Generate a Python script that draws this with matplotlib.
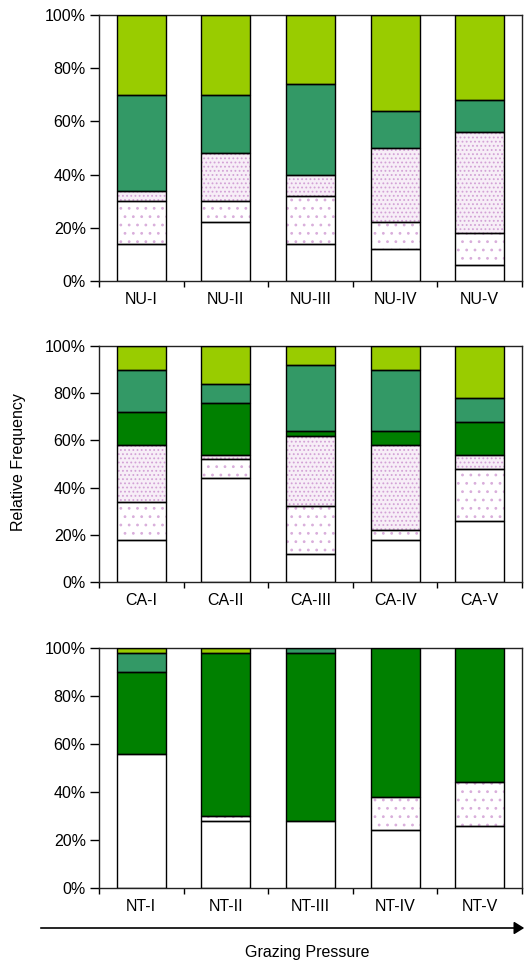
import matplotlib.pyplot as plt
import numpy as np

plt.rcParams['font.family'] = ['Liberation Sans', 'DejaVu Sans']
plt.rcParams['hatch.linewidth'] = 0.8

# ---- data (percent, stacked bottom -> top) ----
nu_labels = ['NU-I', 'NU-II', 'NU-III', 'NU-IV', 'NU-V']
nu_white = [14, 22, 14, 12, 6]
nu_sparse = [16, 8, 18, 10, 12]
nu_dense = [4, 18, 8, 28, 38]
nu_dark = [0, 0, 0, 0, 0]
nu_medium = [36, 22, 34, 14, 12]
nu_yellow = [30, 30, 26, 36, 32]

ca_labels = ['CA-I', 'CA-II', 'CA-III', 'CA-IV', 'CA-V']
ca_white = [18, 44, 12, 18, 26]
ca_sparse = [16, 8, 20, 4, 22]
ca_dense = [24, 2, 30, 36, 6]
ca_dark = [14, 22, 2, 6, 14]
ca_medium = [18, 8, 28, 26, 10]
ca_yellow = [10, 16, 8, 10, 22]

nt_labels = ['NT-I', 'NT-II', 'NT-III', 'NT-IV', 'NT-V']
nt_white = [56, 28, 28, 24, 26]
nt_sparse = [0, 2, 0, 14, 18]
nt_dense = [0, 0, 0, 0, 0]
nt_dark = [34, 68, 70, 62, 56]
nt_medium = [8, 0, 2, 0, 0]
nt_yellow = [2, 2, 0, 0, 0]

# ---- styles ----
styles = [
    dict(color='white', hatch=None, hcolor=None),
    dict(color='white', hatch='..', hcolor='#D9AEDB'),
    dict(color='#F7EEF7', hatch='....', hcolor='#D3A2D6'),
    dict(color='#008000', hatch=None, hcolor=None),
    dict(color='#339966', hatch=None, hcolor=None),
    dict(color='#99CC00', hatch=None, hcolor=None),
]

fig = plt.figure(figsize=(5.28, 9.63), dpi=100)
W, H = 528, 963
left = 99 / W
width = (522 - 99) / W
panels = [
    (nu_labels, [nu_white, nu_sparse, nu_dense, nu_dark, nu_medium, nu_yellow], 15, 281),
    (ca_labels, [ca_white, ca_sparse, ca_dense, ca_dark, ca_medium, ca_yellow], 346, 582),
    (nt_labels, [nt_white, nt_sparse, nt_dense, nt_dark, nt_medium, nt_yellow], 648, 888),
]
bw = 0.58
fs = 11.5
for labels, series, ytop, ybot in panels:
    ax = fig.add_axes([left, 1 - ybot / H, width, (ybot - ytop) / H])
    x = np.arange(len(labels))
    bottom = np.zeros(len(labels))
    for vals, st in zip(series, styles):
        vals = np.array(vals, dtype=float)
        mask = vals > 0
        if st['hatch']:
            ax.bar(x[mask], vals[mask], bw, bottom=bottom[mask], color=st['color'],
                   hatch=st['hatch'], edgecolor=st['hcolor'], linewidth=0, zorder=2)
        else:
            ax.bar(x[mask], vals[mask], bw, bottom=bottom[mask], color=st['color'],
                   linewidth=0, zorder=2)
        ax.bar(x[mask], vals[mask], bw, bottom=bottom[mask], fill=False,
               edgecolor='black', linewidth=1.0, zorder=3)
        bottom += vals
    ax.set_xlim(-0.5, len(labels) - 0.5)
    ax.set_ylim(0, 100)
    ax.set_yticks([0, 20, 40, 60, 80, 100])
    ax.set_yticklabels([f'{v}%' for v in [0, 20, 40, 60, 80, 100]], fontsize=fs)
    ax.set_xticks(np.arange(len(labels) + 1) - 0.5)
    ax.set_xticklabels([])
    ax.set_xticks(x, minor=True)
    ax.set_xticklabels(labels, minor=True, fontsize=fs)
    ax.tick_params(axis='x', which='minor', length=0, pad=8)
    ax.tick_params(axis='x', which='major', length=4.5, width=1, direction='out')
    ax.tick_params(axis='y', length=6.5, width=1, direction='out', pad=3)
    for sp in ax.spines.values():
        sp.set_linewidth(1.0)
        sp.set_color('#222222')

fig.text(18.5 / W, 1 - 462 / H, 'Relative Frequency', rotation=90,
         ha='center', va='center', fontsize=fs)

# arrow for grazing pressure
ya = 1 - 928 / H
fig.add_artist(plt.matplotlib.patches.FancyArrowPatch(
    (38 / W, ya), (527 / W, ya), transform=fig.transFigure,
    arrowstyle='-|>,head_length=4,head_width=2.5', color='black', linewidth=1.2,
    mutation_scale=1.5))
fig.text(307 / W, 1 - 952 / H, 'Grazing Pressure', ha='center', va='center', fontsize=fs)

fig.savefig('out.png', dpi=100)
